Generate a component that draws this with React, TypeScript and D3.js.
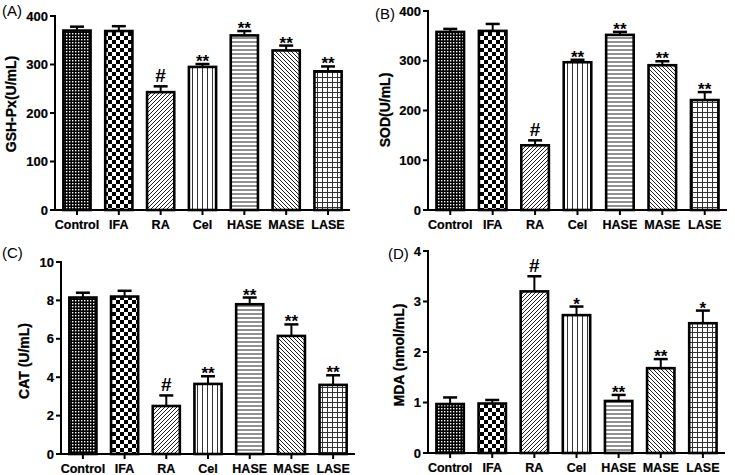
import React from "react";
import * as d3 from "d3";

const categories = ["Control", "IFA", "RA", "Cel", "HASE", "MASE", "LASE"];

const gshMeans = [370, 369, 243, 295, 360, 329, 286];
const gshErrs = [8, 10, 12, 6, 9, 10, 10];
const gshSig = ["", "", "#", "**", "**", "**", "**"];
const gshTicks = [0, 100, 200, 300, 400];

const sodMeans = [358, 360, 130, 297, 352, 291, 221];
const sodErrs = [6, 14, 10, 5, 6, 8, 16];
const sodSig = ["", "", "#", "**", "**", "**", "**"];
const sodTicks = [0, 100, 200, 300, 400];

const catMeans = [8.15, 8.2, 2.5, 3.65, 7.8, 6.15, 3.6];
const catErrs = [0.25, 0.3, 0.55, 0.4, 0.35, 0.6, 0.5];
const catSig = ["", "", "#", "**", "**", "**", "**"];
const catTicks = [0, 2, 4, 6, 8, 10];

const mdaMeans = [0.97, 0.98, 3.2, 2.73, 1.03, 1.68, 2.57];
const mdaErrs = [0.13, 0.07, 0.3, 0.17, 0.12, 0.18, 0.25];
const mdaSig = ["", "", "#", "*", "**", "**", "*"];
const mdaTicks = [0, 1, 2, 3, 4];

const patterns = ["pCtrl", "pIfa", "pRa", "pCel", "pHase", "pMase", "pLase"];

const FONT = "Arial, 'Liberation Sans', Helvetica, sans-serif";

type PanelProps = {
  label: string;
  labelX: number;
  labelY: number;
  title: string;
  titleX: number;
  titleY: number;
  means: number[];
  errs: number[];
  sig: string[];
  ticks: number[];
  max: number;
  left: number;
  right: number;
  top: number;
  bottom: number;
};

function Panel(p: PanelProps) {
  const x = d3
    .scaleBand<string>()
    .domain(categories)
    .range([p.left, p.right])
    .paddingInner(0.35)
    .paddingOuter(0.2);
  const y = d3.scaleLinear().domain([0, p.max]).range([p.bottom, p.top]);
  const bw = x.bandwidth();
  const capW = 14;
  return (
    <g>
      <text x={p.labelX} y={p.labelY} fontSize={15} fontFamily={FONT}>
        {p.label}
      </text>
      <text
        transform={`translate(${p.titleX},${p.titleY}) rotate(-90)`}
        textAnchor="middle"
        fontSize={14}
        fontWeight="bold"
        fontFamily={FONT}
        stroke="#000"
        strokeWidth={0.3}
      >
        {p.title}
      </text>
      {categories.map((c, i) => {
        const x0 = x(c)!;
        const cx = x0 + bw / 2;
        const yt = y(p.means[i]);
        const ye = y(p.means[i] + p.errs[i]);
        return (
          <g key={c}>
            <line x1={cx} x2={cx} y1={yt} y2={ye} stroke="#000" strokeWidth={2} />
            <line x1={cx - capW / 2} x2={cx + capW / 2} y1={ye} y2={ye} stroke="#000" strokeWidth={2.5} />
            <rect
              x={x0}
              y={yt}
              width={bw}
              height={p.bottom - yt}
              fill={`url(#${patterns[i]})`}
              stroke="#000"
              strokeWidth={2.6}
            />
            {p.sig[i] && (
              <text
                x={cx}
                y={p.sig[i] === "#" ? ye - 4 : ye + 3}
                textAnchor="middle"
                fontSize={p.sig[i] === "#" ? 19 : 17}
                fontWeight="bold"
                fontFamily={FONT}
              >
                {p.sig[i]}
              </text>
            )}
          </g>
        );
      })}
      <line x1={p.left} x2={p.left} y1={p.top - 1} y2={p.bottom + 1} stroke="#000" strokeWidth={2} />
      <line x1={p.left - 1} x2={p.right} y1={p.bottom} y2={p.bottom} stroke="#000" strokeWidth={2} />
      {p.ticks.map((t) => (
        <g key={t}>
          <line x1={p.left - 5} x2={p.left} y1={y(t)} y2={y(t)} stroke="#000" strokeWidth={2} />
          <text
            x={p.left - 7}
            y={y(t)}
            dy="0.36em"
            textAnchor="end"
            fontSize={13}
            fontWeight="bold"
            fontFamily={FONT}
            stroke="#000"
            strokeWidth={0.2}
          >
            {t}
          </text>
        </g>
      ))}
      {categories.map((c) => {
        const cx = x(c)! + bw / 2;
        return (
          <g key={"t" + c}>
            <line x1={cx} x2={cx} y1={p.bottom} y2={p.bottom + 5} stroke="#000" strokeWidth={2} />
            <text
              x={cx}
              y={p.bottom + 19}
              textAnchor="middle"
              fontSize={12.5}
              fontWeight="bold"
              fontFamily={FONT}
              stroke="#000"
              strokeWidth={0.2}
            >
              {c}
            </text>
          </g>
        );
      })}
    </g>
  );
}

export default function App() {
  return (
    <svg
      width={735}
      height={475}
      style={{ position: "absolute", left: 0, top: 0, background: "#fff" }}
    >
      <defs>
        <pattern id="pCtrl" patternUnits="userSpaceOnUse" width={3} height={3}>
          <rect width={3} height={3} fill="#000" />
          <rect x={0} y={0} width={1.4} height={1.4} fill="#fff" />
        </pattern>
        <pattern id="pIfa" patternUnits="userSpaceOnUse" width={8} height={8}>
          <rect width={8} height={8} fill="#fff" />
          <rect x={0} y={0} width={4} height={4} fill="#000" />
          <rect x={4} y={4} width={4} height={4} fill="#000" />
        </pattern>
        <pattern id="pRa" patternUnits="userSpaceOnUse" width={4} height={4}>
          <rect width={4} height={4} fill="#fff" />
          <path d="M-1,1 L1,-1 M0,4 L4,0 M3,5 L5,3" stroke="#222" strokeWidth={1} />
        </pattern>
        <pattern id="pCel" patternUnits="userSpaceOnUse" width={5} height={5}>
          <rect width={5} height={5} fill="#fff" />
          <line x1={2.5} x2={2.5} y1={0} y2={5} stroke="#333" strokeWidth={1} />
        </pattern>
        <pattern id="pHase" patternUnits="userSpaceOnUse" width={4} height={4}>
          <rect width={4} height={4} fill="#fff" />
          <line x1={0} x2={4} y1={2} y2={2} stroke="#555" strokeWidth={1.3} />
        </pattern>
        <pattern id="pMase" patternUnits="userSpaceOnUse" width={4} height={4}>
          <rect width={4} height={4} fill="#fff" />
          <path d="M-1,3 L1,5 M0,0 L4,4 M3,-1 L5,1" stroke="#222" strokeWidth={1} />
        </pattern>
        <pattern id="pLase" patternUnits="userSpaceOnUse" width={5} height={5}>
          <rect width={5} height={5} fill="#fff" />
          <line x1={2.5} x2={2.5} y1={0} y2={5} stroke="#333" strokeWidth={1} />
          <line x1={0} x2={5} y1={2.5} y2={2.5} stroke="#333" strokeWidth={1} />
        </pattern>
      </defs>
      <Panel
        label="(A)"
        labelX={2}
        labelY={16}
        title="GSH-Px(U/mL)"
        titleX={16}
        titleY={104}
        means={gshMeans}
        errs={gshErrs}
        sig={gshSig}
        ticks={gshTicks}
        max={400}
        left={55}
        right={350}
        top={16}
        bottom={210}
      />
      <Panel
        label="(B)"
        labelX={375}
        labelY={19}
        title="SOD(U/mL)"
        titleX={390}
        titleY={110}
        means={sodMeans}
        errs={sodErrs}
        sig={sodSig}
        ticks={sodTicks}
        max={400}
        left={428}
        right={727}
        top={11}
        bottom={210}
      />
      <Panel
        label="(C)"
        labelX={2}
        labelY={258}
        title="CAT (U/mL)"
        titleX={29}
        titleY={361}
        means={catMeans}
        errs={catErrs}
        sig={catSig}
        ticks={catTicks}
        max={10}
        left={61}
        right={355}
        top={262}
        bottom={454}
      />
      <Panel
        label="(D)"
        labelX={388}
        labelY={259}
        title="MDA (nmol/mL)"
        titleX={404}
        titleY={355}
        means={mdaMeans}
        errs={mdaErrs}
        sig={mdaSig}
        ticks={mdaTicks}
        max={4}
        left={428}
        right={725}
        top={251}
        bottom={453}
      />
    </svg>
  );
}
